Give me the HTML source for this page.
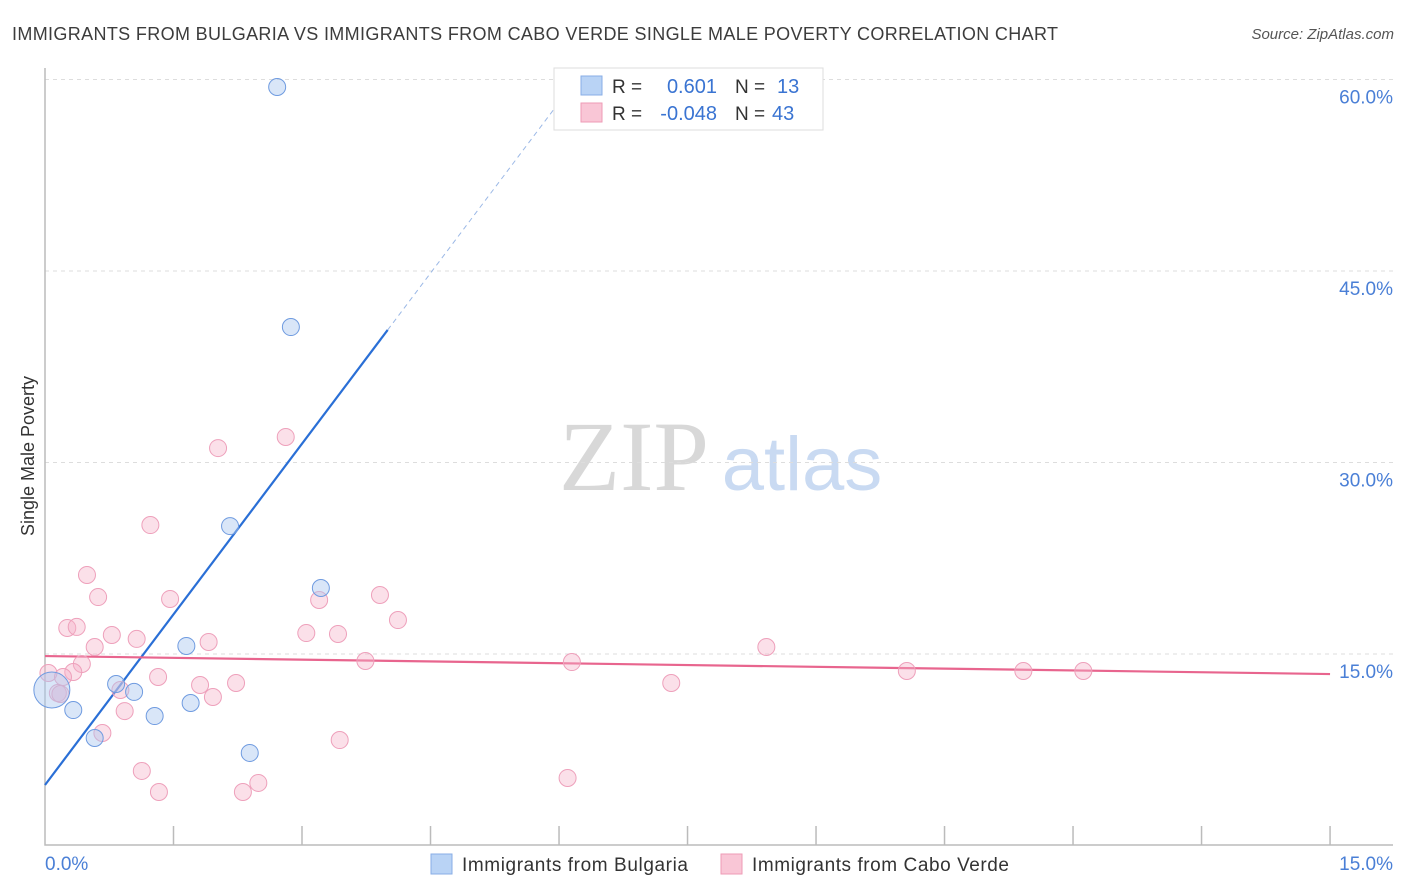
<!DOCTYPE html>
<html><head><meta charset="utf-8"><style>
body{margin:0;background:#fff;font-family:"Liberation Sans",sans-serif;}
svg{display:block}
</style></head><body>
<svg width="1406" height="892" xmlns="http://www.w3.org/2000/svg">
<text x="12" y="40" font-size="18" fill="#3c3c3c" textLength="1046">IMMIGRANTS FROM BULGARIA VS IMMIGRANTS FROM CABO VERDE SINGLE MALE POVERTY CORRELATION CHART</text>
<text x="1394" y="39" font-size="15" fill="#555" font-style="italic" text-anchor="end">Source: ZipAtlas.com</text>
<g id="watermark">
<text x="634" y="490" font-size="100" fill="#d8d8d8" font-family="Liberation Serif,serif" text-anchor="middle">ZIP</text>
<text x="802" y="490" font-size="76" fill="#c9daf2" text-anchor="middle">atlas</text>
</g>
<g id="grid"></g>
<g id="axes"></g>
<g id="trends"></g>
<g id="points"></g>
<text x="34" y="456" font-size="18" fill="#333" transform="rotate(-90 34 456)" text-anchor="middle">Single Male Poverty</text>
<g>
<rect x="554" y="68" width="269" height="62" fill="#fff" stroke="#ddd"/>
<rect x="581" y="76" width="21" height="19" fill="#b9d3f5" stroke="#88aee6"/>
<rect x="581" y="103" width="21" height="19" fill="#f9c6d6" stroke="#ee9bb6"/>
<text x="612" y="93" font-size="19" fill="#333">R =</text>
<text x="717" y="93" font-size="20" fill="#3a74d2" text-anchor="end">0.601</text>
<text x="735" y="93" font-size="19" fill="#333">N =</text>
<text x="777" y="93" font-size="20" fill="#3a74d2">13</text>
<text x="612" y="120" font-size="19" fill="#333">R =</text>
<text x="717" y="120" font-size="20" fill="#3a74d2" text-anchor="end">-0.048</text>
<text x="735" y="120" font-size="19" fill="#333">N =</text>
<text x="772" y="120" font-size="20" fill="#3a74d2">43</text>
</g>
<g>
<rect x="431" y="854" width="21" height="20" fill="#b9d3f5" stroke="#88aee6"/>
<text x="462" y="871" font-size="19" fill="#333" textLength="226">Immigrants from Bulgaria</text>
<rect x="721" y="854" width="21" height="20" fill="#f9c6d6" stroke="#ee9bb6"/>
<text x="752" y="871" font-size="19" fill="#333" textLength="257">Immigrants from Cabo Verde</text>
</g>
</svg>
<script>
const yTicks=[15,30,45,60];
const yTickLabels=["15.0%","30.0%","45.0%","60.0%"];
const xTickCount=10;
const bulgariaX=[2.71,2.87,2.16,3.22,1.65,0.83,1.04,0.08,0.33,1.28,1.70,0.58,2.39];
const bulgariaY=[59.41,40.61,25.02,20.17,15.63,12.65,12.03,12.18,10.61,10.14,11.16,8.42,7.25];
const caboX=[0.49,0.62,1.46,0.26,0.37,0.78,1.07,0.58,1.91,0.43,0.33,1.32,0.88,1.81,2.23,1.96,0.93,0.67,1.13,1.33,2.31,2.49,2.02,2.81,1.23,3.05,3.42,3.20,3.91,4.12,3.74,3.44,6.15,6.10,7.31,8.42,10.06,11.42,12.12,0.04,0.15,0.18,0.21];
const caboY=[21.19,19.46,19.31,17.04,17.12,16.49,16.18,15.55,15.94,14.22,13.59,13.20,12.18,12.57,12.73,11.63,10.53,8.81,5.84,4.19,4.19,4.90,31.13,32.00,25.10,16.64,16.57,19.23,19.62,17.66,14.45,8.26,14.37,5.29,12.73,15.55,13.67,13.67,13.67,13.51,11.94,11.87,13.20];
const bulgariaTrend=[4.74,8.91];
const caboTrend=[14.84,-0.094];
const NS="http://www.w3.org/2000/svg";
const sx=v=>45+v*85.67, sy=v=>845.5-v*12.767;
function mk(t,a,p){const e=document.createElementNS(NS,t);for(const k in a)e.setAttribute(k,a[k]);document.getElementById(p).appendChild(e);return e;}
yTicks.forEach((t,i)=>{
 const g=mk('line',{x1:45,x2:1393,y1:sy(t),y2:sy(t),stroke:'#ddd','stroke-dasharray':'4,4'},'grid');
 
 
 const l=mk('text',{x:1393,y:sy(t)+24,'font-size':19,fill:'#4a7fd6','text-anchor':'end'},'grid');
 l.textContent=yTickLabels[i];
 
 
});
let ax=mk('path',{d:'M45,68V845H1393',fill:'none',stroke:'#bbb','stroke-width':1.5},'axes');


for(let i=1;i<=xTickCount;i++){const x=sx(i*1.5);
 const t=mk('line',{x1:x,x2:x,y1:826,y2:845,stroke:'#bbb','stroke-width':1.5},'axes');
 
 }
let x0=mk('text',{x:45,y:870,'font-size':19,fill:'#4a7fd6'},'axes');x0.textContent='0.0%';


let x1=mk('text',{x:1393,y:870,'font-size':19,fill:'#4a7fd6','text-anchor':'end'},'axes');x1.textContent='15.0%';


caboX.forEach((x,i)=>{const c=mk('circle',{cx:sx(x),cy:sy(caboY[i]),r:8.5,fill:'rgba(246,178,200,0.4)',stroke:'#eea0bb','stroke-width':1},'points');
 
 });
bulgariaX.forEach((x,i)=>{const c=mk('circle',{cx:sx(x),cy:sy(bulgariaY[i]),r:i==7?18:8.5,fill:'rgba(170,200,240,0.45)',stroke:'#6f9be0','stroke-width':1},'points');
 
 });
const bx2=4.0, bx3=(60-bulgariaTrend[0])/bulgariaTrend[1];
let b1=mk('line',{x1:sx(0),y1:sy(bulgariaTrend[0]),x2:sx(bx2),y2:sy(bulgariaTrend[0]+bulgariaTrend[1]*bx2),stroke:'#2a6fd6','stroke-width':2.2},'trends');


let b2=mk('line',{x1:sx(bx2),y1:sy(bulgariaTrend[0]+bulgariaTrend[1]*bx2),x2:sx(bx3),y2:sy(60),stroke:'#9bb8e6','stroke-width':1,'stroke-dasharray':'5,4'},'trends');


let p1=mk('line',{x1:sx(0),y1:sy(caboTrend[0]),x2:sx(15),y2:sy(caboTrend[0]+caboTrend[1]*15),stroke:'#e8658e','stroke-width':2.2},'trends');


</script>
</body></html>
